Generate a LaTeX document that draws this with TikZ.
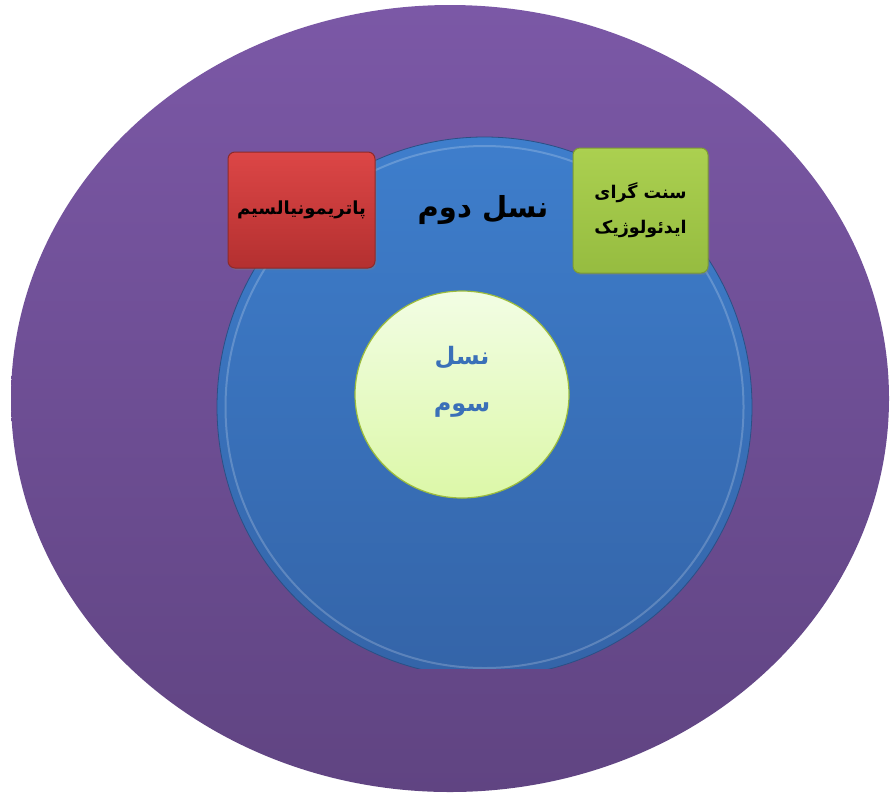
\documentclass[tikz,border=0pt]{standalone}
\usepackage{fontspec}
\usetikzlibrary{shapes.geometric,shadows}
\newfontfamily\farsifont[Script=Arabic]{DejaVu Sans}
\TeXXeTstate=1
\definecolor{purpletop}{HTML}{7B58A6}
\definecolor{purplebot}{HTML}{604482}
\definecolor{bluetop}{HTML}{3E7ECC}
\definecolor{bluebot}{HTML}{3464A8}
\definecolor{limetop}{HTML}{F2FDE4}
\definecolor{limebot}{HTML}{DCF8A8}
\definecolor{limeline}{HTML}{9CBC3C}
\definecolor{redtop}{HTML}{DC4646}
\definecolor{redbot}{HTML}{B43030}
\definecolor{redline}{HTML}{8E2A2A}
\definecolor{greentop}{HTML}{ABD050}
\definecolor{greenbot}{HTML}{96BC40}
\definecolor{greenline}{HTML}{7D9B32}
\definecolor{textblue}{HTML}{3A70B8}

\begin{document}
\begin{tikzpicture}[x=1pt,y=-1pt,
  lbl/.style={font=\farsifont\bfseries, align=center, inner sep=0pt},
  box/.style={draw, rounded corners=7pt, line width=1pt, inner sep=0pt,
    drop shadow={opacity=0.35, shadow xshift=1.5pt, shadow yshift=-2pt}}]
\useasboundingbox (0,0) rectangle (890,796);
\fill[white] (0,0) rectangle (890,796);
% outer ring
\node[ellipse, minimum width=878pt, minimum height=787pt, inner sep=0pt,
  top color=purpletop, bottom color=purplebot] (first) at (450,398.5) {};
% second generation, cut flat at the bottom
\begin{scope}
\clip (0,0) rectangle (890,668);
\node[ellipse, minimum width=535pt, minimum height=540pt, inner sep=0pt, draw=bluebot!80!black, line width=0.8pt,
  top color=bluetop, bottom color=bluebot] (second) at (484.5,407) {};
\draw[white, opacity=0.2, line width=2pt] (484.5,407) ellipse (259pt and 261pt);
\end{scope}
% third generation
\node[ellipse, minimum width=214pt, minimum height=207pt, inner sep=0pt,
  draw=limeline, line width=1.2pt, top color=limetop, bottom color=limebot] (third) at (462,394.5) {};
% boxes
\node[box, draw=redline, top color=redtop, bottom color=redbot,
  minimum width=147pt, minimum height=116pt] (patri) at (301.5,210) {};
\node[box, draw=greenline, top color=greentop, bottom color=greenbot,
  minimum width=135pt, minimum height=125pt] (ideo) at (640.5,210.5) {};
% labels
\node[lbl, font=\farsifont\bfseries\fontsize{29}{34}\selectfont] (secondlbl) at (483,210) {\beginR نسل دوم\endR};
\node[lbl, font=\farsifont\bfseries\fontsize{18}{22}\selectfont] (patrilbl) at (patri) {\beginR پاتریمونیالسیم\endR};
\node[lbl, font=\farsifont\bfseries\fontsize{17.5}{35}\selectfont] (ideolbl) at (ideo) {\beginR سنت گرای\endR\\\beginR ایدئولوژیک\endR};
\node[lbl, text=textblue, font=\farsifont\bfseries\fontsize{24}{47}\selectfont] (thirdlbl) at (462,382) {\beginR نسل\endR\\\beginR سوم\endR};
\end{tikzpicture}
\end{document}
